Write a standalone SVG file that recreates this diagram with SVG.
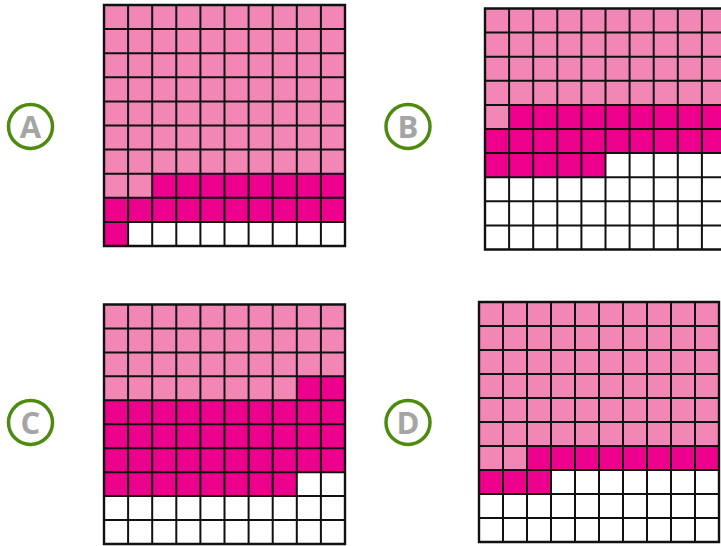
<svg xmlns="http://www.w3.org/2000/svg" width="721" height="546" viewBox="0 0 721 546">
<style>
.l{fill:#F287B6}
.d{fill:#EC008C}
.w{fill:#FFFFFF}
.g{fill:none;stroke:#111;stroke-width:2}
.b{fill:none;stroke:#111;stroke-width:2.4}
.c{fill:#FFFFFF;stroke:#4F8A10;stroke-width:3.5}
.t{font-family:"Open Sans","Liberation Sans",sans-serif;font-weight:bold;font-size:31px;fill:#A5A5A5;text-anchor:middle}
</style>
<defs>
<path id="grid" class="g" vector-effect="non-scaling-stroke" d="M1 0V10M2 0V10M3 0V10M4 0V10M5 0V10M6 0V10M7 0V10M8 0V10M9 0V10M0 1H10M0 2H10M0 3H10M0 4H10M0 5H10M0 6H10M0 7H10M0 8H10M0 9H10"/>
<rect id="border" class="b" vector-effect="non-scaling-stroke" x="0" y="0" width="10" height="10"/>
</defs>
<g id="gridA" transform="translate(104,5) scale(24.1)">
<rect class="w" x="0" y="0" width="10" height="10"/>
<rect class="l" x="0" y="0" width="10" height="7"/>
<rect class="l" x="0" y="7" width="2" height="1"/>
<rect class="d" x="2" y="7" width="8" height="1"/>
<rect class="d" x="0" y="8" width="10" height="1"/>
<rect class="d" x="0" y="9" width="1" height="1"/>
<use href="#grid"/><use href="#border"/>
</g>
<g id="gridB" transform="translate(485,8.5) scale(24.1)">
<rect class="w" x="0" y="0" width="10" height="10"/>
<rect class="l" x="0" y="0" width="10" height="4"/>
<rect class="l" x="0" y="4" width="1" height="1"/>
<rect class="d" x="1" y="4" width="9" height="1"/>
<rect class="d" x="0" y="5" width="10" height="1"/>
<rect class="d" x="0" y="6" width="5" height="1"/>
<use href="#grid"/><use href="#border"/>
</g>
<g id="gridC" transform="translate(104,304.5) scale(24.1,23.95)">
<rect class="w" x="0" y="0" width="10" height="10"/>
<rect class="l" x="0" y="0" width="10" height="3"/>
<rect class="l" x="0" y="3" width="8" height="1"/>
<rect class="d" x="8" y="3" width="2" height="1"/>
<rect class="d" x="0" y="4" width="10" height="3"/>
<rect class="d" x="0" y="7" width="8" height="1"/>
<use href="#grid"/><use href="#border"/>
</g>
<g id="gridD" transform="translate(479,302) scale(24,24)">
<rect class="w" x="0" y="0" width="10" height="10"/>
<rect class="l" x="0" y="0" width="10" height="6"/>
<rect class="l" x="0" y="6" width="2" height="1"/>
<rect class="d" x="2" y="6" width="8" height="1"/>
<rect class="d" x="0" y="7" width="3" height="1"/>
<use href="#grid"/><use href="#border"/>
</g>
<g id="labelA"><circle class="c" cx="30.5" cy="126.5" r="22"/><text class="t" x="30.5" y="137.5">A</text></g>
<g id="labelB"><circle class="c" cx="408" cy="126.5" r="22"/><text class="t" x="408" y="137.5">B</text></g>
<g id="labelC"><circle class="c" cx="30.5" cy="422.5" r="22"/><text class="t" x="30.5" y="433.5">C</text></g>
<g id="labelD"><circle class="c" cx="408" cy="422.5" r="22"/><text class="t" x="408" y="433.5">D</text></g>
</svg>
